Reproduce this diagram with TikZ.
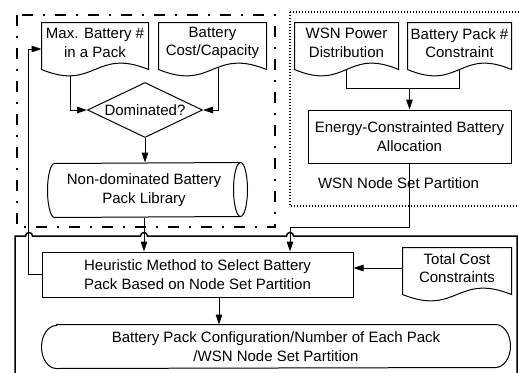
\documentclass[tikz,border=0pt]{standalone}
\usepackage{fontspec}
\setmainfont{Liberation Sans}
\usetikzlibrary{arrows.meta,shapes.geometric}
\tikzset{
 arr/.style={-{Triangle[length=10pt,width=6.5pt]}},
 docnode/.style={minimum height=40pt, inner sep=0pt, align=center},
 boxnode/.style={draw, inner sep=0pt, align=center},
 dia/.style={diamond, draw, aspect=2.1, minimum width=115pt, minimum height=55pt, inner sep=0pt},
 cylnode/.style={minimum width=192pt, minimum height=54pt, inner sep=0pt, align=center},
 termnode/.style={minimum width=468pt, minimum height=43pt, inner sep=0pt, align=center},
 plain/.style={inner sep=0pt},
 dashdotframe/.style={line width=1.6pt, dash pattern=on 11pt off 10pt on 2pt off 10pt},
 dotframe/.style={line width=1.2pt, dash pattern=on 1.2pt off 1.8pt},
 solidframe/.style={line width=1.5pt}
}
\newcommand\docoutline[1]{\draw (#1.north west) -- (#1.north east) -- ([yshift=-6pt]#1.south east) .. controls ([yshift=16pt]#1.south) and ([yshift=-28pt]#1.south) .. ([yshift=-6pt]#1.south west) -- cycle;}
\newcommand\cyloutline[1]{\draw ([xshift=7pt]#1.south west) arc[start angle=270,end angle=90,x radius=7pt,y radius=27pt] -- (#1.north east) arc[start angle=90,end angle=-90,x radius=7pt,y radius=27pt] -- cycle;
 \draw (#1.north east) arc[start angle=90,end angle=270,x radius=7pt,y radius=27pt];}
\newcommand\termoutline[1]{\draw ([xshift=15pt]#1.north west) -- ([xshift=-15pt]#1.north east) arc[start angle=90,end angle=-90,x radius=15pt,y radius=21.5pt] -- ([xshift=15pt]#1.south west) arc[start angle=270,end angle=90,x radius=15pt,y radius=21.5pt] -- cycle;}
\begin{document}
\begin{tikzpicture}[x=1pt,y=-1pt,line width=1pt,font=\fontsize{15}{18.5}\selectfont]
\useasboundingbox[fill=white] (0,0) rectangle (519,372);
% frames
\draw[dashdotframe] (17,15) rectangle (275,227);
\draw[dotframe] (290,12) rectangle (530,206);
\draw[solidframe] (15,380) -- (15,236) -- (25.5,236) arc[start angle=180,end angle=0,radius=3.5pt] -- (140.5,236) arc[start angle=180,end angle=0,radius=3.5pt] -- (286.5,236) arc[start angle=180,end angle=0,radius=3.5pt] -- (517,236) -- (517,380);
% nodes
\node[docnode, minimum width=106pt] (maxdoc) at (95,43) {Max. Battery \#\\in a Pack};
\node[docnode, minimum width=107pt] (costdoc) at (212.5,43) {Battery\\Cost/Capacity};
\node[dia] (dom) at (145,110) {Dominated?};
\node[cylnode] (lib) at (144,190) {Non-dominated Battery\\Pack Library};
\node[docnode, minimum width=103pt] (wsnp) at (346.5,43) {WSN Power\\Distribution};
\node[docnode, minimum width=103pt] (bpc) at (459.5,43) {Battery Pack \#\\Constraint};
\node[boxnode, minimum width=203pt, minimum height=53pt] (energy) at (409.5,136.5) {Energy-Constrainted Battery\\Allocation};
\node[plain] (wsnlabel) at (398.5,183) {WSN Node Set Partition};
\node[boxnode, minimum width=311pt, minimum height=45pt] (heur) at (197.5,274.5) {Heuristic Method to Select Battery\\Pack Based on Node Set Partition};
\node[docnode, minimum width=108pt] (tcc) at (457,268) {Total Cost\\Constraints};
\node[termnode] (result) at (276,346.5) {Battery Pack Configuration/Number of Each Pack\\/WSN Node Set Partition};
\docoutline{maxdoc}
\docoutline{costdoc}
\docoutline{wsnp}
\docoutline{bpc}
\docoutline{tcc}
\cyloutline{lib}
\termoutline{result}
% connectors
\coordinate (join) at (409.5,88);
\coordinate (ecorner) at (290,227);
\draw[arr] ([xshift=-25pt,yshift=-12.4pt]maxdoc.south) |- (dom.west);
\draw[arr] ([xshift=5.5pt,yshift=-3.7pt]costdoc.south) |- (dom.east);
\draw[arr] (dom.south) -- (dom.south |- lib.north);
\draw ([yshift=-6pt]wsnp.south) |- (join);
\draw ([yshift=-6pt]bpc.south) |- (join);
\draw[arr] (join) -- (energy.north);
\draw[arr] (energy.south) |- (ecorner) -- (ecorner |- heur.north);
\draw[arr] (lib.south) -- (lib.south |- heur.north);
\draw[arr] (heur.west) -- ++(-13,0) |- ([yshift=-6pt]maxdoc.west);
\draw[arr] (tcc.west) -- (tcc.west -| heur.east);
\draw[arr] ([xshift=21.5pt]heur.south) -- ([xshift=21.5pt]heur.south |- result.north);
\end{tikzpicture}
\end{document}
